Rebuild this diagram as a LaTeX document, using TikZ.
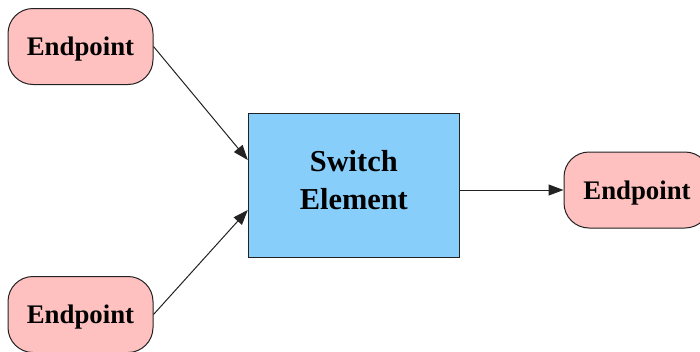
\documentclass[tikz,border=0pt]{standalone}
\usepackage{fontspec}
\setmainfont{Liberation Serif}
\usetikzlibrary{arrows.meta}
\definecolor{endfill}{HTML}{FFC0C0}
\definecolor{swfill}{HTML}{87CEFA}
\definecolor{edgeline}{HTML}{222222}
\begin{document}
\begin{tikzpicture}[x=1pt,y=-1pt,
  endbox/.style={draw=edgeline,line width=1pt,fill=endfill,rounded corners=25pt,
    minimum width=145pt,minimum height=76pt,inner sep=0pt,text depth=0pt,
    font=\fontsize{26.8}{32}\selectfont\bfseries},
  swbox/.style={draw=edgeline,line width=1pt,fill=swfill,
    minimum width=211pt,minimum height=144pt,inner sep=0pt},
  swtext/.style={inner sep=0pt,align=center,
    font=\fontsize{30.4}{37.3}\selectfont\bfseries},
  link/.style={draw=edgeline,line width=1pt,-{Triangle[length=15pt,width=11pt]}}]
\useasboundingbox (0,0) rectangle (700,351);
% the three endpoints
\node[endbox] (e1) at (80.5,46.5) {Endpoint};
\node[endbox] (e2) at (80.5,314.5) {Endpoint};
\node[endbox,minimum width=146pt] (e3) at (637,190) {Endpoint};
% the switch and its two-line caption
\node[swbox] (sw) at (353.8,185) {};
\node[swtext] (swlabel) at ([yshift=5pt]sw.center) {Switch\\Element};
% connectors
\draw[link] (e1.east) -- ([yshift=25pt]sw.west);
\draw[link] (e2.east) -- ([yshift=-25pt]sw.west);
\draw[link] (e3.west -| sw.east) -- (e3.west);
\end{tikzpicture}
\end{document}
